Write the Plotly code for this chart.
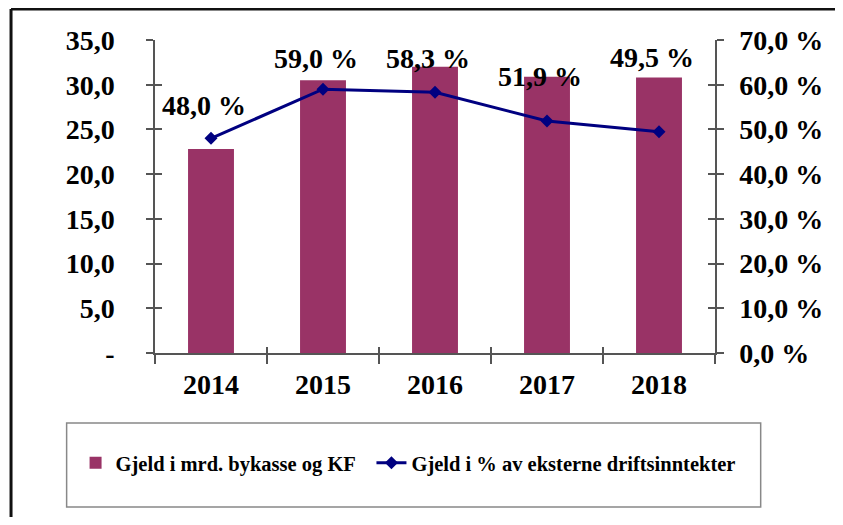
import plotly.graph_objects as go

# --- data ---
years = ["2014", "2015", "2016", "2017", "2018"]
gjeld_mrd = [22.8, 30.5, 32.0, 30.9, 30.8]
gjeld_pct = [48.0, 59.0, 58.3, 51.9, 49.5]
pct_labels = ["48,0 %", "59,0 %", "58,3 %", "51,9 %", "49,5 %"]

left_ticks = [0, 5, 10, 15, 20, 25, 30, 35]
left_ticktext = ["-", "5,0", "10,0", "15,0", "20,0", "25,0", "30,0", "35,0"]
right_ticks = [0, 10, 20, 30, 40, 50, 60, 70]
right_ticktext = ["0,0 %", "10,0 %", "20,0 %", "30,0 %", "40,0 %", "50,0 %", "60,0 %", "70,0 %"]

# label offsets above the points (px), labels were hand-placed in the original
label_shift = [33, 31, 34, 44, 74]

SERIF = "Liberation Serif, Times New Roman, serif"
BAR_COLOR = "#993366"
LINE_COLOR = "#000080"
AXIS_COLOR = "#555555"

# page has an 8px body margin on every side, so shrink the figure to avoid
# scrollbars and work in page pixels
OFF = 8
W, H = 843 - 2 * OFF, 525 - 2 * OFF
L, T = 155 - OFF, 40 - OFF
R, B = W - (719 - OFF), H - (353 - OFF)
pw, ph = W - L - R, H - T - B


def px_x(x):
    return (x - OFF - L) / pw


def px_y(y):
    return (H - B - (y - OFF)) / ph


fig = go.Figure()

fig.add_trace(go.Bar(
    x=years, y=gjeld_mrd, name="Gjeld i mrd. bykasse og KF",
    marker=dict(color=BAR_COLOR, line=dict(width=0)), width=0.41,
    yaxis="y", legend="legend",
))
fig.add_trace(go.Scatter(
    x=years, y=gjeld_pct, name="Gjeld i % av eksterne driftsinntekter",
    mode="lines+markers", yaxis="y2", legend="legend2",
    line=dict(color=LINE_COLOR, width=3),
    marker=dict(symbol="diamond", size=10, color=LINE_COLOR),
))

# invisible helpers so the overlay tick axes get drawn
hidden = dict(mode="markers", marker=dict(opacity=0), hoverinfo="skip", showlegend=False)
fig.add_trace(go.Scatter(x=years, y=gjeld_mrd, yaxis="y3", **hidden))
fig.add_trace(go.Scatter(x=years, y=gjeld_pct, yaxis="y4", **hidden))
fig.add_trace(go.Scatter(x=list(range(len(years))), y=gjeld_mrd, xaxis="x2", **hidden))

tick_font = dict(family=SERIF, size=28, color="black", weight="bold")

# category axis: annotation x must be the category index ("2014" would be read as a number)
for i, (v, lab, dy) in enumerate(zip(gjeld_pct, pct_labels, label_shift)):
    fig.add_annotation(
        x=i, y=v, xref="x", yref="y2", text=lab, showarrow=False,
        yshift=dy, xshift=-7, font=tick_font,
    )

# legend frame and outer chart frame (only top/left edge visible in the crop)
fig.add_shape(type="rect", xref="paper", yref="paper",
              x0=px_x(66), x1=px_x(765), y0=px_y(507), y1=px_y(423),
              line=dict(color="#888888", width=1.5), fillcolor="rgba(0,0,0,0)")
frame = dict(color="#111111", width=3)
fig.add_shape(type="line", xref="paper", yref="paper",
              x0=px_x(10), x1=px_x(843), y0=px_y(9), y1=px_y(9), line=frame)
fig.add_shape(type="line", xref="paper", yref="paper",
              x0=px_x(10), x1=px_x(10), y0=px_y(9), y1=px_y(525), line=frame)

leg_font = dict(family=SERIF, size=20.5, color="black", weight="bold")
tick_style = dict(tickwidth=1.5, tickcolor=AXIS_COLOR, showgrid=False, zeroline=False)

fig.update_layout(
    width=W, height=H,
    margin=dict(l=L, r=R, t=T, b=B),
    paper_bgcolor="white", plot_bgcolor="white",
    xaxis=dict(
        type="category", range=[-0.5, 4.5],
        showline=True, linecolor=AXIS_COLOR, linewidth=1.5,
        ticks="outside", ticklen=9, tickson="boundaries",
        tickfont=tick_font, ticklabelstandoff=6, **tick_style,
    ),
    xaxis2=dict(
        overlaying="x", anchor="y", side="bottom", range=[-0.5, 4.5],
        tickvals=[i - 0.5 for i in range(len(years) + 1)],
        ticks="inside", ticklen=6, showticklabels=False, showline=False, **tick_style,
    ),
    yaxis=dict(
        range=[0, 35], tickvals=left_ticks, ticktext=left_ticktext,
        showline=True, linecolor=AXIS_COLOR, linewidth=1.5,
        ticks="outside", ticklen=7, tickfont=tick_font, ticklabelstandoff=26, **tick_style,
    ),
    yaxis2=dict(
        range=[0, 70], tickvals=right_ticks, ticktext=right_ticktext,
        overlaying="y", side="right", anchor="x",
        showline=True, linecolor=AXIS_COLOR, linewidth=1.5,
        ticks="outside", ticklen=7, tickfont=tick_font, ticklabelstandoff=10, **tick_style,
    ),
    yaxis3=dict(
        range=[0, 35], tickvals=left_ticks, overlaying="y", side="left", anchor="x",
        ticks="inside", ticklen=7, showticklabels=False, showline=False, **tick_style,
    ),
    yaxis4=dict(
        range=[0, 70], tickvals=right_ticks, overlaying="y", side="right", anchor="x",
        ticks="inside", ticklen=7, showticklabels=False, showline=False, **tick_style,
    ),
    showlegend=True,
    legend=dict(
        x=px_x(75), xanchor="left", y=px_y(463), yanchor="middle",
        font=leg_font, bgcolor="rgba(0,0,0,0)", borderwidth=0,
    ),
    legend2=dict(
        x=px_x(373), xanchor="left", y=px_y(463), yanchor="middle",
        font=leg_font, bgcolor="rgba(0,0,0,0)", borderwidth=0,
    ),
)

fig.write_html("out.html")
